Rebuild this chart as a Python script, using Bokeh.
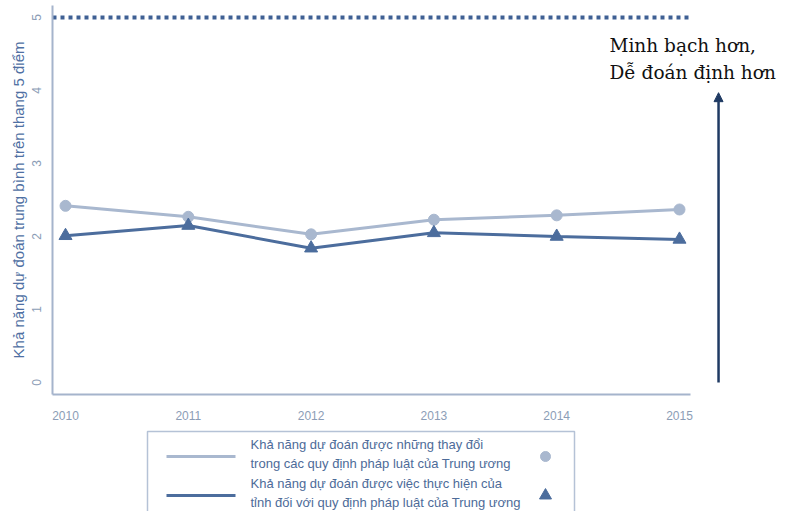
from bokeh.plotting import figure
from bokeh.layouts import column
from bokeh.models import Range1d, FixedTicker, Label, Arrow, NormalHead
from bokeh.embed import file_html
from bokeh.resources import INLINE
from bokeh.core.properties import value

years = [2010, 2011, 2012, 2013, 2014, 2015]
changes_central = [2.42, 2.27, 2.03, 2.23, 2.29, 2.37]
provincial_impl = [2.01, 2.15, 1.84, 2.05, 2.00, 1.96]
y_ticks = [0, 1, 2, 3, 4, 5]
max_score = 5
arrow_y = [0, 3.97]
axis_label = "Khả năng dự đoán trung bình trên thang 5 điểm"
note_lines = ["Minh bạch hơn,", "Dễ đoán định hơn"]
legend_lines = [
    ["Khả năng dự đoán được những thay đổi", "trong các quy định pháp luật của Trung ương"],
    ["Khả năng dự đoán được việc thực hiện của", "tỉnh đối với quy định pháp luật của Trung ương"],
]

LIGHT = "#a9b8cf"
DARK = "#4c6d9d"
TICK = "#8c9db6"
AXIS = "#a5b4cc"
NAVY = "#1f3a63"

W = 783
H1 = 426
H2 = 85
LEFT = 52

x0, x1 = 2009.894, 2015.847
p = figure(width=W, height=H1, output_backend="svg", toolbar_location=None,
           x_range=Range1d(x0, x1), y_range=Range1d(-0.164, 5.164),
           min_border_left=LEFT, min_border_right=0, min_border_top=5, min_border_bottom=H1 - 394)
p.outline_line_color = None
p.xgrid.visible = False
p.ygrid.visible = False

xa = p.xaxis[0]
xa.ticker = FixedTicker(ticks=years)
xa.bounds = (x0, 2015.09)
xa.axis_line_color = AXIS
xa.axis_line_width = 2
xa.major_tick_line_color = None
xa.minor_tick_line_color = None
xa.major_label_text_color = TICK
xa.major_label_text_font = "Liberation Sans"
xa.major_label_text_font_size = "12px"
xa.major_label_standoff = 10

ya = p.yaxis[0]
ya.ticker = FixedTicker(ticks=y_ticks)
ya.axis_line_color = AXIS
ya.axis_line_width = 2
ya.major_tick_line_color = None
ya.minor_tick_line_color = None
ya.major_label_text_color = TICK
ya.major_label_text_font = "Liberation Sans"
ya.major_label_text_font_size = "12px"
ya.major_label_orientation = "vertical"
ya.major_label_standoff = 5
ya.axis_label = axis_label
ya.axis_label_text_color = "#4f70a3"
ya.axis_label_text_font = "Liberation Sans"
ya.axis_label_text_font_style = "normal"
ya.axis_label_text_font_size = "15px"
ya.axis_label_standoff = 3

# dotted max line
p.segment(x0=[x0], y0=[max_score], x1=[2015.09], y1=[max_score], line_color="#3f6094",
          line_width=4, line_dash="4 4", line_cap="butt")

p.line(years, changes_central, line_color=LIGHT, line_width=3)
p.scatter(years, changes_central, marker="circle", size=11, fill_color=LIGHT, line_color=LIGHT)
p.line(years, provincial_impl, line_color=DARK, line_width=3)
p.scatter(years, provincial_impl, marker="triangle", size=13, fill_color=DARK, line_color=DARK)

# arrow
p.add_layout(Arrow(end=NormalHead(size=9, fill_color=NAVY, line_color=NAVY),
                   x_start=2015.318, y_start=arrow_y[0], x_end=2015.318, y_end=arrow_y[1],
                   line_color=NAVY, line_width=2.5))

note_y = [4.616, 4.247]
for t, yy in zip(note_lines, note_y):
    p.add_layout(Label(x=2014.43, y=yy, text=t,
                       text_font="DejaVu Serif", text_font_size="18.5px", text_color="#111111",
                       text_baseline="middle"))

# legend figure (page-pixel coordinates, y downward)
q = figure(width=W, height=H2, output_backend="svg", toolbar_location=None,
           x_range=Range1d(LEFT, W), y_range=Range1d(H1 + H2, H1),
           x_axis_location=None, y_axis_location=None,
           min_border_left=LEFT, min_border_right=0, min_border_top=0, min_border_bottom=0)
q.outline_line_color = None
q.xgrid.visible = False
q.ygrid.visible = False

q.quad(left=[147], right=[574], top=[431], bottom=[530], fill_color="white",
       line_color="#b5c2d6", line_width=1.5)
legend_cols = [LIGHT, DARK]
line_y = [456, 495]
text_y = [[444, 463], [483, 502]]
for i in range(2):
    q.segment(x0=[166], y0=[line_y[i]], x1=[235], y1=[line_y[i]],
              line_color=legend_cols[i], line_width=3)
    q.text(x=[250, 250], y=text_y[i], text=legend_lines[i],
           text_font=value("Liberation Sans"), text_font_size="13px",
           text_color="#4d6b99", text_baseline="middle")
q.scatter(x=[545], y=[line_y[0]], marker="circle", size=10, fill_color=LIGHT, line_color=LIGHT)
q.scatter(x=[545], y=[line_y[1]], marker="triangle", size=12, fill_color=DARK, line_color=DARK)

layout = column(p, q, spacing=0)
open("out.html", "w").write(file_html(layout, INLINE))
